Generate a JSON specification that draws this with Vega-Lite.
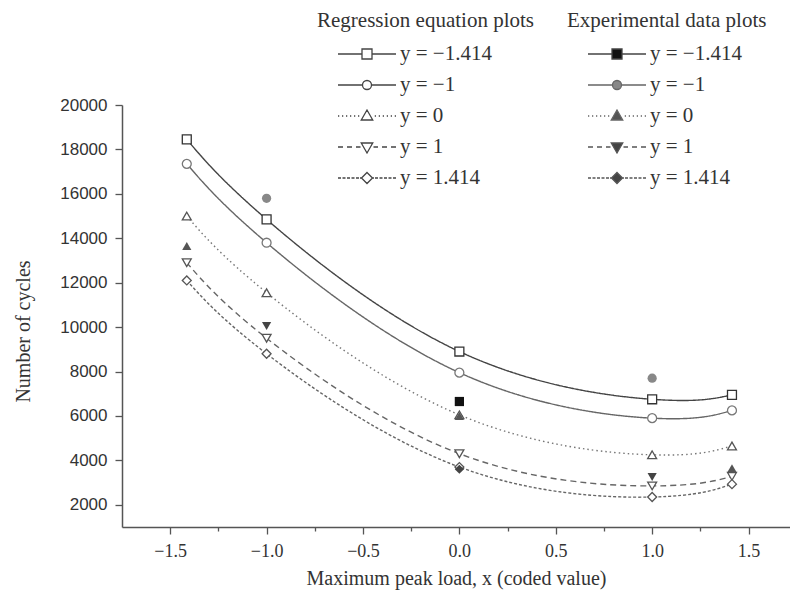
{
  "$schema": "https://vega.github.io/schema/vega-lite/v6.json",
  "width": 668,
  "height": 422,
  "autosize": {"type": "none"},
  "padding": {"left": 122, "top": 105, "right": 0, "bottom": 69},
  "background": "white",
  "config": {"view": {"stroke": null}},
  "datasets": {
    "regression": [
      {"series": "y = −1.414", "x": -1.414, "cycles": 18450},
      {"series": "y = −1.414", "x": -1, "cycles": 14850},
      {"series": "y = −1.414", "x": 0, "cycles": 8900},
      {"series": "y = −1.414", "x": 1, "cycles": 6750},
      {"series": "y = −1.414", "x": 1.414, "cycles": 6950},
      {"series": "y = −1", "x": -1.414, "cycles": 17350},
      {"series": "y = −1", "x": -1, "cycles": 13800},
      {"series": "y = −1", "x": 0, "cycles": 7950},
      {"series": "y = −1", "x": 1, "cycles": 5900},
      {"series": "y = −1", "x": 1.414, "cycles": 6250},
      {"series": "y = 0", "x": -1.414, "cycles": 15000},
      {"series": "y = 0", "x": -1, "cycles": 11550},
      {"series": "y = 0", "x": 0, "cycles": 6050},
      {"series": "y = 0", "x": 1, "cycles": 4250},
      {"series": "y = 0", "x": 1.414, "cycles": 4650},
      {"series": "y = 1", "x": -1.414, "cycles": 12900},
      {"series": "y = 1", "x": -1, "cycles": 9500},
      {"series": "y = 1", "x": 0, "cycles": 4300},
      {"series": "y = 1", "x": 1, "cycles": 2850},
      {"series": "y = 1", "x": 1.414, "cycles": 3280},
      {"series": "y = 1.414", "x": -1.414, "cycles": 12100},
      {"series": "y = 1.414", "x": -1, "cycles": 8800},
      {"series": "y = 1.414", "x": 0, "cycles": 3700},
      {"series": "y = 1.414", "x": 1, "cycles": 2350},
      {"series": "y = 1.414", "x": 1.414, "cycles": 2930}
    ],
    "experimental": [
      {"series": "y = −1.414", "x": 0, "cycles": 6650},
      {"series": "y = −1", "x": -1, "cycles": 15800},
      {"series": "y = −1", "x": 1, "cycles": 7700},
      {"series": "y = 0", "x": -1.414, "cycles": 13650},
      {"series": "y = 0", "x": 0, "cycles": 6000},
      {"series": "y = 0", "x": 1.414, "cycles": 3650},
      {"series": "y = 1", "x": -1, "cycles": 10050},
      {"series": "y = 1", "x": 1, "cycles": 3250},
      {"series": "y = 1.414", "x": 0, "cycles": 3600}
    ]
  },
  "layer": [
    {
      "data": {"name": "regression"},
      "mark": {"type": "line", "interpolate": "natural", "strokeWidth": 1.4},
      "encoding": {
        "x": {
          "field": "x", "type": "quantitative",
          "scale": {"domain": [-1.75, 1.715], "nice": false, "zero": false},
          "axis": {
            "title": "Maximum peak load, x (coded value)",
            "values": [-1.5, -1.25, -1, -0.75, -0.5, -0.25, 0, 0.25, 0.5, 0.75, 1, 1.25, 1.5],
            "labelExpr": "abs(datum.value*2 - round(datum.value*2)) < 0.001 ? format(datum.value, '.1f') : ''",
            "tickSize": {"condition": {"test": "abs(datum.value*2 - round(datum.value*2)) < 0.001", "value": 7}, "value": 4},
            "tickColor": "#555", "tickWidth": 1.3,
            "domainColor": "#555", "domainWidth": 1.5,
            "grid": false,
            "labelFont": "Liberation Serif", "labelFontSize": 18, "labelColor": "#333",
            "labelPadding": 8, "labelOverlap": false, "labelFlush": false,
            "titleFont": "Liberation Serif", "titleFontSize": 20, "titleFontWeight": "normal",
            "titleColor": "#333", "titlePadding": 8
          }
        },
        "y": {
          "field": "cycles", "type": "quantitative",
          "scale": {"domain": [1000, 20000], "nice": false, "zero": false},
          "axis": {
            "title": "Number of cycles",
            "values": [2000, 4000, 6000, 8000, 10000, 12000, 14000, 16000, 18000, 20000],
            "format": "d",
            "tickSize": 7,
            "tickColor": "#555", "tickWidth": 1.3,
            "domainColor": "#555", "domainWidth": 1.5,
            "grid": false,
            "labelFont": "Liberation Sans", "labelFontSize": 17, "labelColor": "#333",
            "labelPadding": 8, "labelOverlap": false, "labelFlush": false,
            "titleFont": "Liberation Serif", "titleFontSize": 20, "titleFontWeight": "normal",
            "titleColor": "#333", "titlePadding": 26, "titleY": 226
          }
        },
        "strokeDash": {
          "field": "series", "type": "nominal",
          "scale": {"domain": ["y = −1.414", "y = −1", "y = 0", "y = 1", "y = 1.414"], "range": [[1, 0], [1, 0], [1.5, 3], [6, 4], [3, 2]]},
          "legend": null
        },
        "stroke": {
          "field": "series", "type": "nominal",
          "scale": {"domain": ["y = −1.414", "y = −1", "y = 0", "y = 1", "y = 1.414"], "range": ["#444", "#666", "#777", "#666", "#666"]},
          "legend": null
        }
      }
    },
    {
      "data": {"name": "regression"},
      "mark": {"type": "point", "filled": true, "fill": "white", "opacity": 1, "strokeWidth": 1.3, "size": 80},
      "encoding": {
        "x": {"field": "x", "type": "quantitative", "scale": {"domain": [-1.75, 1.715], "nice": false, "zero": false}},
        "y": {"field": "cycles", "type": "quantitative", "scale": {"domain": [1000, 20000], "nice": false, "zero": false}},
        "shape": {
          "field": "series", "type": "nominal",
          "scale": {"domain": ["y = −1.414", "y = −1", "y = 0", "y = 1", "y = 1.414"], "range": ["square", "circle", "triangle-up", "triangle-down", "diamond"]},
          "legend": null
        },
        "stroke": {
          "field": "series", "type": "nominal",
          "scale": {"domain": ["y = −1.414", "y = −1", "y = 0", "y = 1", "y = 1.414"], "range": ["#333", "#777", "#555", "#555", "#555"]},
          "legend": null
        }
      }
    },
    {
      "data": {"name": "experimental"},
      "mark": {"type": "point", "filled": true, "opacity": 1, "size": 85},
      "encoding": {
        "x": {"field": "x", "type": "quantitative", "scale": {"domain": [-1.75, 1.715], "nice": false, "zero": false}},
        "y": {"field": "cycles", "type": "quantitative", "scale": {"domain": [1000, 20000], "nice": false, "zero": false}},
        "shape": {
          "field": "series", "type": "nominal",
          "scale": {"domain": ["y = −1.414", "y = −1", "y = 0", "y = 1", "y = 1.414"], "range": ["square", "circle", "triangle-up", "triangle-down", "diamond"]},
          "legend": null
        },
        "fill": {
          "field": "series", "type": "nominal",
          "scale": {"domain": ["y = −1.414", "y = −1", "y = 0", "y = 1", "y = 1.414"], "range": ["#111", "#888", "#555", "#444", "#444"]},
          "legend": null
        }
      }
    },
    {
      "data": {"name": "regression"},
      "mark": {"type": "point", "filled": false, "clip": true, "opacity": 1, "color": "#444", "strokeWidth": 1.3},
      "encoding": {
        "x": {"datum": 10, "type": "quantitative", "scale": {"domain": [-1.75, 1.715], "nice": false, "zero": false}},
        "y": {"datum": 5000, "type": "quantitative", "scale": {"domain": [1000, 20000], "nice": false, "zero": false}},
        "shape": {
          "field": "series", "type": "nominal",
          "scale": {
            "domain": ["y = −1.414", "y = −1", "y = 0", "y = 1", "y = 1.414"],
            "range": [
              "M-2.9,0H-0.5M0.5,0H2.9M-0.5,-0.5H0.5V0.5H-0.5Z",
              "M-2.9,0H-0.45M0.45,0H2.9M-0.45,0A0.45,0.45,0,1,0,0.45,0A0.45,0.45,0,1,0,-0.45,0Z",
              "M-2.9,0H-2.775M-2.5,0H-2.375M-2.1,0H-1.975M-1.7,0H-1.575M-1.3,0H-1.175M-0.9,0H-0.775M0.775,0H0.9M1.175,0H1.3M1.575,0H1.7M1.975,0H2.1M2.375,0H2.5M2.775,0H2.9M0,-0.6L0.575,0.4L-0.575,0.4Z",
              "M-2.9,0H-2.4M-2,0H-1.5M-1.1,0H-0.65M0.65,0H1.1M1.5,0H2M2.4,0H2.9M0,0.6L0.575,-0.4L-0.575,-0.4Z",
              "M-2.9,0H-2.6M-2.45,0H-2.15M-2,0H-1.7M-1.55,0H-1.25M-1.1,0H-0.8M-0.7,0H-0.55M0.55,0H0.7M0.8,0H1.1M1.25,0H1.55M1.7,0H2M2.15,0H2.45M2.6,0H2.9M0,-0.55L0.55,0L0,0.55L-0.55,0Z"
            ]
          },
          "legend": {
            "title": "Regression equation plots",
            "orient": "none", "legendX": 195, "legendY": -95, "padding": 0,
            "symbolSize": 400, "symbolStrokeWidth": 1.3, "symbolOffset": 39, "labelOffset": 22,
            "titleFont": "Liberation Serif", "titleFontSize": 21, "titleFontWeight": "normal", "titleColor": "#333",
            "titleBaseline": "top", "titlePadding": 12, "titleLimit": 500,
            "labelFont": "Liberation Serif", "labelFontSize": 21, "labelColor": "#333", "labelLimit": 300,
            "rowPadding": 10
          }
        }
      }
    },
    {
      "data": {"name": "experimental"},
      "mark": {"type": "point", "filled": true, "clip": true, "opacity": 1, "strokeWidth": 1.3},
      "encoding": {
        "x": {"datum": 10, "type": "quantitative", "scale": {"domain": [-1.75, 1.715], "nice": false, "zero": false}},
        "y": {"datum": 5000, "type": "quantitative", "scale": {"domain": [1000, 20000], "nice": false, "zero": false}},
        "shape": {
          "field": "series", "type": "nominal",
          "scale": {
            "domain": ["y = −1.414", "y = −1", "y = 0", "y = 1", "y = 1.414"],
            "range": [
              "M-2.9,0H-0.5M0.5,0H2.9M-0.5,-0.5H0.5V0.5H-0.5Z",
              "M-2.9,0H-0.45M0.45,0H2.9M-0.45,0A0.45,0.45,0,1,0,0.45,0A0.45,0.45,0,1,0,-0.45,0Z",
              "M-2.9,0H-2.775M-2.5,0H-2.375M-2.1,0H-1.975M-1.7,0H-1.575M-1.3,0H-1.175M-0.9,0H-0.775M0.775,0H0.9M1.175,0H1.3M1.575,0H1.7M1.975,0H2.1M2.375,0H2.5M2.775,0H2.9M0,-0.6L0.575,0.4L-0.575,0.4Z",
              "M-2.9,0H-2.4M-2,0H-1.5M-1.1,0H-0.65M0.65,0H1.1M1.5,0H2M2.4,0H2.9M0,0.6L0.575,-0.4L-0.575,-0.4Z",
              "M-2.9,0H-2.6M-2.45,0H-2.15M-2,0H-1.7M-1.55,0H-1.25M-1.1,0H-0.8M-0.7,0H-0.55M0.55,0H0.7M0.8,0H1.1M1.25,0H1.55M1.7,0H2M2.15,0H2.45M2.6,0H2.9M0,-0.55L0.55,0L0,0.55L-0.55,0Z"
            ]
          },
          "legend": {
            "title": "Experimental data plots",
            "orient": "none", "legendX": 445, "legendY": -95, "padding": 0,
            "symbolSize": 400, "symbolStrokeWidth": 1.3, "symbolOffset": 39, "labelOffset": 22,
            "titleFont": "Liberation Serif", "titleFontSize": 21, "titleFontWeight": "normal", "titleColor": "#333",
            "titleBaseline": "top", "titlePadding": 12, "titleLimit": 500,
            "labelFont": "Liberation Serif", "labelFontSize": 21, "labelColor": "#333", "labelLimit": 300,
            "rowPadding": 10
          }
        },
        "fill": {
          "field": "series", "type": "nominal",
          "scale": {"domain": ["y = −1.414", "y = −1", "y = 0", "y = 1", "y = 1.414"], "range": ["#111", "#888", "#555", "#444", "#444"]},
          "legend": {
            "title": "Experimental data plots",
            "orient": "none", "legendX": 445, "legendY": -95, "padding": 0,
            "symbolSize": 400, "symbolStrokeWidth": 1.3, "symbolOffset": 39, "labelOffset": 22,
            "titleFont": "Liberation Serif", "titleFontSize": 21, "titleFontWeight": "normal", "titleColor": "#333",
            "titleBaseline": "top", "titlePadding": 12, "titleLimit": 500,
            "labelFont": "Liberation Serif", "labelFontSize": 21, "labelColor": "#333", "labelLimit": 300,
            "rowPadding": 10
          }
        },
        "stroke": {
          "field": "series", "type": "nominal",
          "scale": {"domain": ["y = −1.414", "y = −1", "y = 0", "y = 1", "y = 1.414"], "range": ["#444", "#666", "#666", "#555", "#555"]},
          "legend": {
            "title": "Experimental data plots",
            "orient": "none", "legendX": 445, "legendY": -95, "padding": 0,
            "symbolSize": 400, "symbolStrokeWidth": 1.3, "symbolOffset": 39, "labelOffset": 22,
            "titleFont": "Liberation Serif", "titleFontSize": 21, "titleFontWeight": "normal", "titleColor": "#333",
            "titleBaseline": "top", "titlePadding": 12, "titleLimit": 500,
            "labelFont": "Liberation Serif", "labelFontSize": 21, "labelColor": "#333", "labelLimit": 300,
            "rowPadding": 10
          }
        }
      }
    }
  ],
  "resolve": {
    "scale": {"shape": "independent", "stroke": "independent", "fill": "independent", "strokeDash": "independent"},
    "legend": {"shape": "independent", "stroke": "independent", "fill": "independent", "strokeDash": "independent"}
  }
}
